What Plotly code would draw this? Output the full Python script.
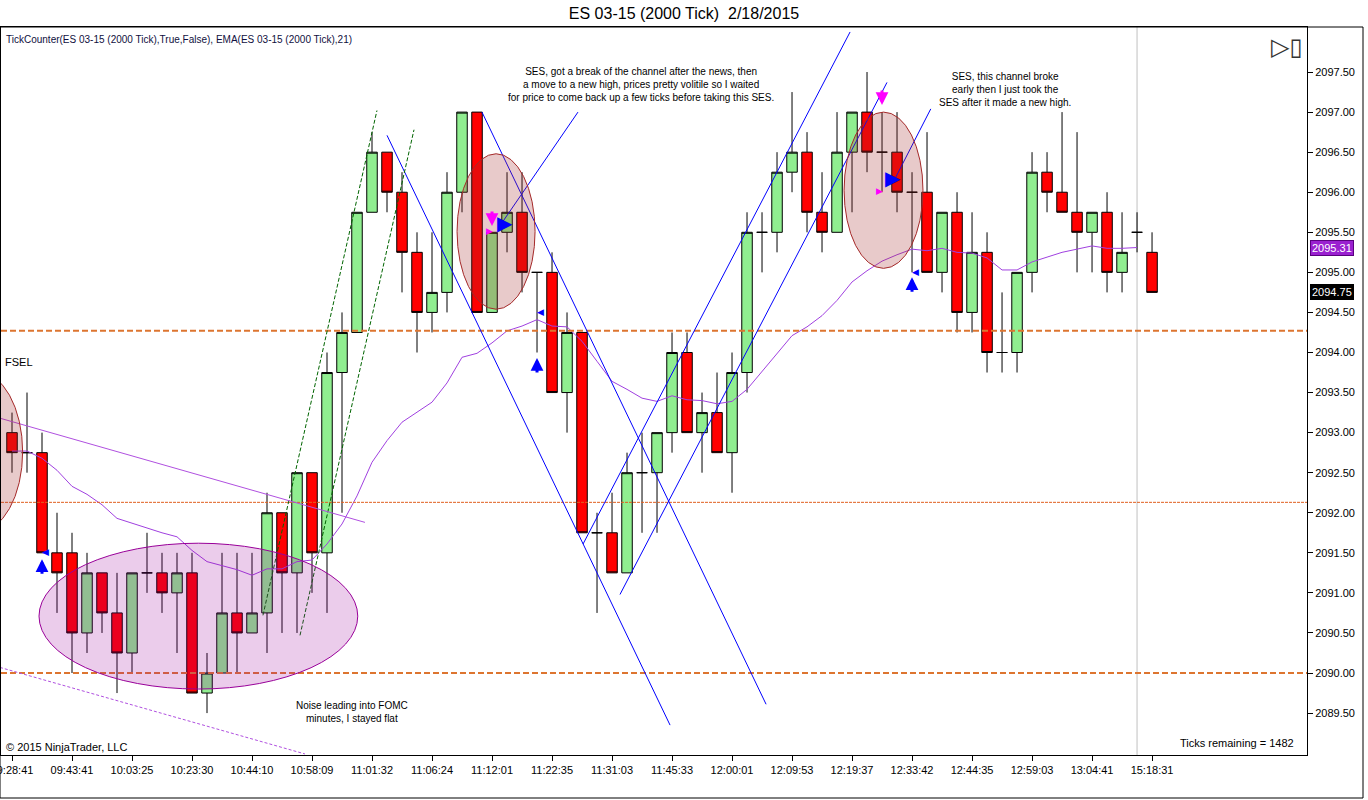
import plotly.graph_objects as go

# ---------------- data ----------------
bar_index = list(range(77))
open_ = [2093.0, 2092.75, 2092.75, 2091.5, 2091.5, 2090.5, 2091.25, 2090.75, 2090.25, 2091.25,
         2091.25, 2091.0, 2091.25, 2089.75, 2090.0, 2090.75, 2090.5, 2090.75, 2092.0, 2091.25,
         2092.5, 2091.5, 2093.75, 2094.25, 2095.75, 2096.5, 2096.0, 2095.25, 2094.5, 2094.75,
         2096.0, 2097.0, 2094.5, 2095.5, 2095.75, 2095.0, 2095.0, 2093.5, 2094.25, 2091.75,
         2091.75, 2091.25, 2092.5, 2092.5, 2093.0, 2094.0, 2093.0, 2093.25, 2092.75, 2093.75,
         2095.5, 2095.5, 2096.25, 2096.5, 2095.75, 2095.5, 2096.5, 2097.0, 2096.5, 2096.5,
         2096.0, 2096.0, 2095.0, 2095.75, 2094.5, 2095.25, 2094.0, 2094.0, 2095.0, 2096.25,
         2096.0, 2095.75, 2095.5, 2095.75, 2095.0, 2095.5, 2095.25]
high = [2093.25, 2093.5, 2093.0, 2092.0, 2091.75, 2091.5, 2091.25, 2091.25, 2091.25, 2091.75,
        2091.5, 2091.5, 2091.5, 2090.25, 2091.5, 2091.5, 2091.5, 2092.25, 2092.0, 2092.5,
        2092.5, 2094.0, 2094.5, 2095.75, 2096.75, 2096.5, 2096.25, 2095.5, 2095.5, 2096.25,
        2097.0, 2097.0, 2095.5, 2096.25, 2096.25, 2095.0, 2095.25, 2094.5, 2094.25, 2092.0,
        2092.25, 2092.75, 2093.0, 2093.0, 2094.25, 2094.25, 2093.5, 2093.75, 2094.0, 2095.75,
        2095.75, 2096.5, 2097.25, 2096.75, 2096.25, 2097.0, 2097.0, 2097.5, 2097.0, 2097.0,
        2096.25, 2096.75, 2095.75, 2096.0, 2095.75, 2095.5, 2094.75, 2095.0, 2096.5, 2096.5,
        2097.0, 2096.75, 2095.75, 2096.0, 2095.75, 2095.75, 2095.5]
low = [2092.5, 2092.5, 2091.5, 2090.75, 2090.0, 2090.25, 2090.5, 2089.75, 2090.0, 2091.0,
       2090.75, 2090.25, 2089.75, 2089.5, 2090.0, 2090.0, 2090.5, 2090.25, 2090.5, 2090.5,
       2091.0, 2090.75, 2092.0, 2094.25, 2095.75, 2095.75, 2094.75, 2094.0, 2094.25, 2094.5,
       2095.75, 2094.5, 2094.5, 2095.25, 2094.75, 2094.0, 2093.5, 2093.0, 2091.75, 2090.75,
       2091.25, 2091.25, 2091.75, 2091.75, 2092.75, 2093.0, 2092.5, 2092.75, 2092.25, 2093.5,
       2095.0, 2095.25, 2096.0, 2095.5, 2095.25, 2095.5, 2095.75, 2096.25, 2096.0, 2095.75,
       2095.0, 2095.0, 2094.75, 2094.25, 2094.25, 2093.75, 2093.75, 2093.75, 2094.75, 2095.75,
       2095.75, 2095.0, 2095.0, 2094.75, 2094.75, 2095.25, 2094.75]
close = [2092.75, 2092.75, 2091.5, 2091.25, 2090.5, 2091.25, 2090.75, 2090.25, 2091.25, 2091.25,
         2091.0, 2091.25, 2089.75, 2090.0, 2090.75, 2090.5, 2090.75, 2092.0, 2091.25, 2092.5,
         2091.5, 2093.75, 2094.25, 2095.75, 2096.5, 2096.0, 2095.25, 2094.5, 2094.75, 2096.0,
         2097.0, 2094.5, 2095.5, 2095.75, 2095.0, 2095.0, 2093.5, 2094.25, 2091.75, 2091.75,
         2091.25, 2092.5, 2092.5, 2093.0, 2094.0, 2093.0, 2093.25, 2092.75, 2093.75, 2095.5,
         2095.5, 2096.25, 2096.5, 2095.75, 2095.5, 2096.5, 2097.0, 2096.5, 2096.5, 2096.0,
         2096.0, 2095.0, 2095.75, 2094.5, 2095.25, 2094.0, 2094.0, 2095.0, 2096.25, 2096.0,
         2095.75, 2095.5, 2095.75, 2095.0, 2095.25, 2095.5, 2094.75]

ema_index = list(range(76))
ema_values = [2092.77, 2092.77, 2092.68, 2092.53, 2092.33, 2092.23, 2092.10, 2091.93, 2091.87, 2091.81,
              2091.75, 2091.70, 2091.53, 2091.39, 2091.34, 2091.29, 2091.22, 2091.30, 2091.30, 2091.39,
              2091.41, 2091.61, 2091.86, 2092.21, 2092.63, 2092.90, 2093.13, 2093.26, 2093.38, 2093.62,
              2093.94, 2093.99, 2094.12, 2094.27, 2094.33, 2094.41, 2094.33, 2094.32, 2094.14, 2093.89,
              2093.64, 2093.54, 2093.43, 2093.39, 2093.46, 2093.41, 2093.40, 2093.36, 2093.39, 2093.54,
              2093.76, 2093.98, 2094.21, 2094.32, 2094.46, 2094.65, 2094.88, 2095.02, 2095.14, 2095.22,
              2095.29, 2095.27, 2095.30, 2095.25, 2095.24, 2095.18, 2095.03, 2095.03, 2095.13, 2095.19,
              2095.25, 2095.29, 2095.33, 2095.30, 2095.30, 2095.31]

tick_bars = [0, 4, 8, 12, 16, 20, 24, 28, 32, 36, 40, 44, 48, 52, 56, 60, 64, 68, 72, 76]
tick_labels = ["09:28:41", "09:43:41", "10:03:25", "10:23:30", "10:44:10", "10:58:09", "11:01:32",
               "11:06:24", "11:12:01", "11:22:35", "11:31:03", "11:45:33", "12:00:01", "12:09:53",
               "12:19:37", "12:33:42", "12:44:35", "12:59:03", "13:04:41", "15:18:31"]
price_ticks = [2089.5, 2090.0, 2090.5, 2091.0, 2091.5, 2092.0, 2092.5, 2093.0, 2093.5,
               2094.0, 2094.5, 2095.0, 2095.5, 2096.0, 2096.5, 2097.0, 2097.5]

# horizontal levels
thick_levels = [2094.27, 2090.0]
thin_levels = [2092.13]
session_break_bar = [75]

# drawn lines ((bar, price), (bar, price))
blue_lines = [((25.0, 2096.71), (43.87, 2089.35)),
              ((31.33, 2097.0), (50.27, 2089.61)),
              ((38.07, 2091.61), (55.87, 2098.0)),
              ((40.53, 2090.98), (58.33, 2097.37)),
              ((37.73, 2097.0), (32.67, 2095.62)),
              ((61.25, 2097.04), (58.73, 2096.12))]
green_lines = [((16.73, 2090.72), (24.33, 2097.02)),
               ((19.2, 2090.47), (26.8, 2096.78))]
purple_solid_lines = [((-0.8, 2093.18), (23.53, 2091.88))]
purple_dot_lines = [((-0.8, 2090.07), (19.53, 2088.99))]

# ellipses (x0, x1, y0, y1) in bars / price
brown_ellipses = [(-5.27, 0.71, 2091.76, 2093.76),
                  (29.67, 34.87, 2094.54, 2096.48),
                  (55.47, 60.73, 2095.05, 2097.0)]
purple_ellipses = [(1.8, 23.05, 2089.80, 2091.62)]

# signal markers
up_arrow_x = [2, 35, 60]
up_arrow_y = [2091.42, 2093.93, 2094.94]
down_arrow_x = [32, 58]
down_arrow_y = [2095.58, 2097.09]
small_left_x = [2.2, 35.2, 60.25]
small_left_y = [2091.51, 2094.5, 2095.0]
small_right_x = [31.8, 57.8]
small_right_y = [2095.52, 2096.02]
big_right_x = [32.87, 58.7]
big_right_y = [2095.62, 2096.18]

notes = [
    (41.93, 2097.34, "SES, got a break of the channel after the news, then<br>a move to a new high, prices pretty volitile so I waited<br>for price to come back up a few ticks before taking this SES."),
    (66.2, 2097.28, "SES, this channel broke<br>early then I just took the<br>SES after it made a new high."),
    (22.67, 2089.51, "Noise leading into FOMC<br>minutes, I stayed flat"),
]
fsel_pos = (-0.6, 2093.88)
ema_last = 2095.31
last_close = 2094.75

# ---------------- figure ----------------
FONT = "Liberation Sans, Arial, sans-serif"
W, H = 1368, 800
L, R, T, B = 1, 61, 27, 45
x_range = [-0.733, 86.33]
y_range = [2088.977, 2098.062]

fig = go.Figure()
fig.add_trace(go.Candlestick(
    x=bar_index, open=open_, high=high, low=low, close=close,
    increasing=dict(fillcolor="#90EE90", line=dict(color="black", width=1)),
    decreasing=dict(fillcolor="#FF0000", line=dict(color="black", width=1)),
    whiskerwidth=0, showlegend=False, hoverinfo="skip"))
fig.add_trace(go.Scatter(x=ema_index, y=ema_values, mode="lines",
                         line=dict(color="#A040E0", width=1), showlegend=False, hoverinfo="skip"))

shapes = []
for lv in thick_levels:
    shapes.append(dict(type="line", xref="paper", yref="y", x0=0, x1=1, y0=lv, y1=lv,
                       line=dict(color="#DD7530", width=2, dash="6px,3px"), layer="above"))
for lv in thin_levels:
    shapes.append(dict(type="line", xref="paper", yref="y", x0=0, x1=1, y0=lv, y1=lv,
                       line=dict(color="#E06020", width=1, dash="3px,1px"), layer="above"))
for b in session_break_bar:
    shapes.append(dict(type="line", xref="x", yref="paper", x0=b, x1=b, y0=0, y1=1,
                       line=dict(color="#C0C0C0", width=1), layer="below"))
for (a, b) in blue_lines:
    shapes.append(dict(type="line", xref="x", yref="y", x0=a[0], y0=a[1], x1=b[0], y1=b[1],
                       line=dict(color="#0000FF", width=1), layer="above"))
for (a, b) in green_lines:
    shapes.append(dict(type="line", xref="x", yref="y", x0=a[0], y0=a[1], x1=b[0], y1=b[1],
                       line=dict(color="#006400", width=1, dash="4px,2px"), layer="above"))
for (a, b) in purple_solid_lines:
    shapes.append(dict(type="line", xref="x", yref="y", x0=a[0], y0=a[1], x1=b[0], y1=b[1],
                       line=dict(color="#B050E0", width=1), layer="above"))
for (a, b) in purple_dot_lines:
    shapes.append(dict(type="line", xref="x", yref="y", x0=a[0], y0=a[1], x1=b[0], y1=b[1],
                       line=dict(color="#B050E0", width=1, dash="3px,2px"), layer="above"))
for (x0, x1, y0, y1) in brown_ellipses:
    shapes.append(dict(type="circle", xref="x", yref="y", x0=x0, x1=x1, y0=y0, y1=y1,
                       line=dict(color="#A52A2A", width=1), fillcolor="rgba(165,42,42,0.25)", layer="above"))
for (x0, x1, y0, y1) in purple_ellipses:
    shapes.append(dict(type="circle", xref="x", yref="y", x0=x0, x1=x1, y0=y0, y1=y1,
                       line=dict(color="#990099", width=1), fillcolor="rgba(153,0,153,0.2)", layer="above"))

# outer frame (paper coordinates from pixel frame)
def px_x(p):
    return (p - L) / (W - L - R)
def px_y(p):
    return (H - B - p) / (H - T - B)
shapes.append(dict(type="rect", xref="paper", yref="paper", x0=px_x(0), x1=px_x(1363),
                   y0=px_y(798), y1=px_y(27), line=dict(color="black", width=1), layer="above"))

annotations = []
for x, y in zip(up_arrow_x, up_arrow_y):
    annotations.append(dict(x=x, y=y, xref="x", yref="y", text="", showarrow=True,
                            ax=0, ay=16, arrowhead=2, arrowsize=0.85, arrowwidth=3, arrowcolor="#0000FF"))
for x, y in zip(down_arrow_x, down_arrow_y):
    annotations.append(dict(x=x, y=y, xref="x", yref="y", text="", showarrow=True,
                            ax=0, ay=-16, arrowhead=2, arrowsize=0.85, arrowwidth=3, arrowcolor="#FF00FF"))
for x, y in zip(small_left_x, small_left_y):
    annotations.append(dict(x=x, y=y, xref="x", yref="y", text="◀", showarrow=False,
                            font=dict(family="DejaVu Sans", size=9, color="#0000FF")))
for x, y in zip(small_right_x, small_right_y):
    annotations.append(dict(x=x, y=y, xref="x", yref="y", text="▶", showarrow=False,
                            font=dict(family="DejaVu Sans", size=9, color="#FF00FF")))
for x, y in zip(big_right_x, big_right_y):
    annotations.append(dict(x=x, y=y, xref="x", yref="y", text="▶", showarrow=False,
                            font=dict(family="DejaVu Sans", size=20, color="#0000FF")))
for x, y, t in notes:
    annotations.append(dict(x=x, y=y, xref="x", yref="y", text=t, showarrow=False, align="center",
                            xanchor="center", yanchor="middle",
                            font=dict(family=FONT, size=10, color="black")))
annotations.append(dict(x=fsel_pos[0], y=fsel_pos[1], xref="x", yref="y", text="FSEL", showarrow=False,
                        xanchor="left", yanchor="middle", font=dict(family=FONT, size=11, color="black")))
annotations.append(dict(x=px_x(4), y=px_y(39), xref="paper", yref="paper",
                        text="TickCounter(ES 03-15 (2000 Tick),True,False), EMA(ES 03-15 (2000 Tick),21)",
                        showarrow=False, xanchor="left", yanchor="middle",
                        font=dict(family=FONT, size=10, color="#101040")))
annotations.append(dict(x=px_x(4), y=px_y(747), xref="paper", yref="paper", text="© 2015 NinjaTrader, LLC",
                        showarrow=False, xanchor="left", yanchor="middle",
                        font=dict(family=FONT, size=11, color="black")))
annotations.append(dict(x=px_x(1296), y=px_y(743), xref="paper", yref="paper", text="Ticks remaining = 1482",
                        showarrow=False, xanchor="right", yanchor="middle",
                        font=dict(family=FONT, size=11, color="black")))
annotations.append(dict(x=1, y=ema_last, xref="paper", yref="y", text="%.2f" % ema_last, showarrow=False,
                        xanchor="left", yanchor="middle", xshift=3, bgcolor="#9A20D0", bordercolor="#5A0080",
                        borderwidth=1, borderpad=1, font=dict(family=FONT, size=11, color="white")))
annotations.append(dict(x=1, y=last_close, xref="paper", yref="y", text="%.2f" % last_close, showarrow=False,
                        xanchor="left", yanchor="middle", xshift=3, bgcolor="black", bordercolor="black",
                        borderwidth=1, borderpad=1, font=dict(family=FONT, size=11, color="white")))
annotations.append(dict(x=px_x(1287), y=px_y(47), xref="paper", yref="paper", text="▷▯", showarrow=False,
                        xanchor="center", yanchor="middle",
                        font=dict(family="DejaVu Sans", size=24, color="#333333")))

fig.update_layout(
    width=W, height=H,
    margin=dict(l=L, r=R, t=T, b=B, pad=0),
    paper_bgcolor="white", plot_bgcolor="white",
    boxgap=0.3, boxgroupgap=0,
    title=dict(text="ES 03-15 (2000 Tick)\u00a0 2/18/2015", xref="container", x=0.5, xanchor="center",
               y=1 - 13 / H, yanchor="middle", font=dict(family=FONT, size=16, color="black")),
    font=dict(family=FONT, size=11, color="black"),
    showlegend=False,
    shapes=shapes, annotations=annotations,
    xaxis=dict(range=x_range, showgrid=False, zeroline=False, showline=True, linecolor="black",
               linewidth=1, mirror=True, ticks="outside", ticklen=5, tickcolor="black",
               tickvals=tick_bars, ticktext=tick_labels, tickangle=0, automargin=False,
               ticklabeloverflow="allow",
               tickfont=dict(family=FONT, size=11, color="black"),
               rangeslider=dict(visible=False), fixedrange=True),
    yaxis=dict(range=y_range, side="right", showgrid=False, zeroline=False, showline=True,
               linecolor="black", linewidth=1, mirror=True, ticks="outside", ticklen=5,
               tickcolor="black", tickvals=price_ticks, ticktext=["%.2f" % v for v in price_ticks],
               automargin=False, tickfont=dict(family=FONT, size=11, color="black"), fixedrange=True),
)

fig.write_html("out.html", include_plotlyjs=True, config={"displayModeBar": False},
               post_script="document.body.style.margin='0';")
